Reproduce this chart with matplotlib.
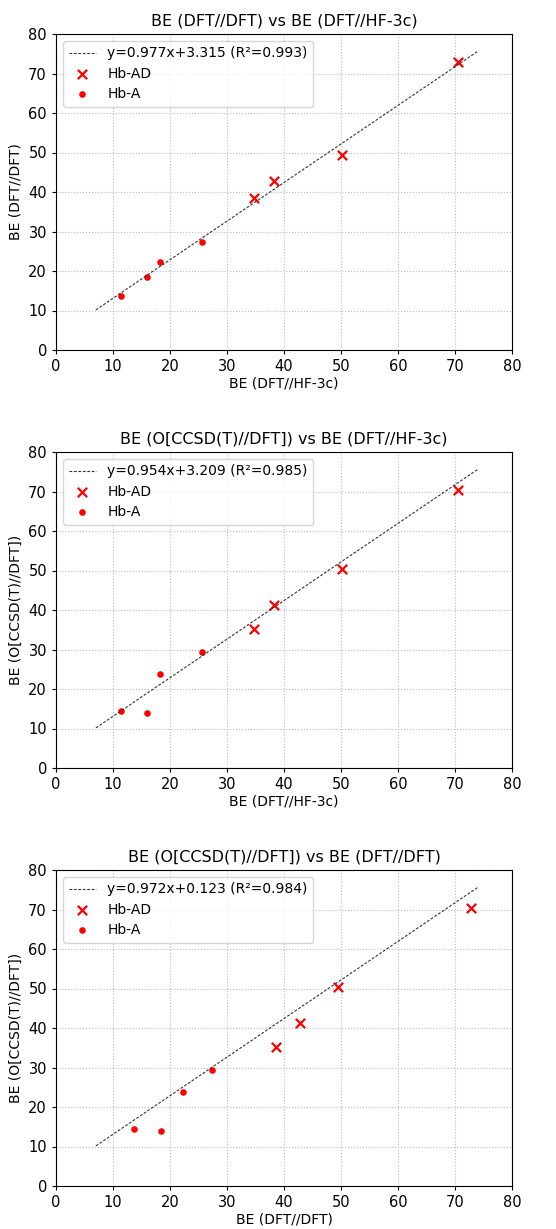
import numpy as np
import matplotlib
matplotlib.use("Agg")
import matplotlib.pyplot as plt

# binding energies
hf3c_A = np.array([11.4, 15.9, 18.3, 25.7])
hf3c_AD = np.array([34.7, 38.3, 50.1, 70.5])
dft_A = np.array([13.6, 18.5, 22.3, 27.3])
dft_AD = np.array([38.6, 42.8, 49.4, 72.8])
ccsd_A = np.array([14.5, 13.9, 23.8, 29.3])
ccsd_AD = np.array([35.1, 41.3, 50.3, 70.5])

fit_labels = ['y=0.977x+3.315 (R\u00b2=0.993)',
              'y=0.954x+3.209 (R\u00b2=0.985)',
              'y=0.972x+0.123 (R\u00b2=0.984)']
# the drawn line is the same in all three panels
line_x = np.array([7.0, 74.0])
line_slope, line_icpt = 0.977, 3.315

titles = ['BE (DFT//DFT) vs BE (DFT//HF-3c)',
          'BE (O[CCSD(T)//DFT]) vs BE (DFT//HF-3c)',
          'BE (O[CCSD(T)//DFT]) vs BE (DFT//DFT)']
xlabels = ['BE (DFT//HF-3c)', 'BE (DFT//HF-3c)', 'BE (DFT//DFT)']
ylabels = ['BE (DFT//DFT)', 'BE (O[CCSD(T)//DFT])', 'BE (O[CCSD(T)//DFT])']
xs = [(hf3c_AD, hf3c_A), (hf3c_AD, hf3c_A), (dft_AD, dft_A)]
ys = [(dft_AD, dft_A), (ccsd_AD, ccsd_A), (ccsd_AD, ccsd_A)]

W, H = 556, 1229
fig = plt.figure(figsize=(W / 100, H / 100), dpi=100)
tops = [34, 452, 870]
for i in range(3):
    top = tops[i]
    ax = fig.add_axes([56 / W, 1 - (top + 316) / H, 456 / W, 316 / H])
    ax.plot(line_x, line_slope * line_x + line_icpt, '--', color='#333333',
            lw=0.8, dashes=(2.5, 1.5), label=fit_labels[i])
    ax.scatter(xs[i][0], ys[i][0], marker='x', color='red', s=45, lw=1.6,
               label='Hb-AD')
    ax.scatter(xs[i][1], ys[i][1], marker='o', color='red', s=14,
               label='Hb-A')
    ax.set_xlim(0, 80)
    ax.set_ylim(0, 80)
    ax.set_xticks(range(0, 81, 10))
    ax.set_yticks(range(0, 81, 10))
    ax.grid(True, ls=':', color='#bbbbbb', lw=0.8)
    ax.set_axisbelow(True)
    ax.tick_params(labelsize=10.5, length=3)
    ax.set_title(titles[i], fontsize=11.5, pad=6)
    ax.set_xlabel(xlabels[i], fontsize=10, labelpad=2)
    ax.set_ylabel(ylabels[i], fontsize=10, labelpad=4)
    ax.legend(loc='upper left', fontsize=10, handlelength=2.0,
              borderaxespad=0.5, labelspacing=0.45)

fig.savefig('out.png', dpi=100)
